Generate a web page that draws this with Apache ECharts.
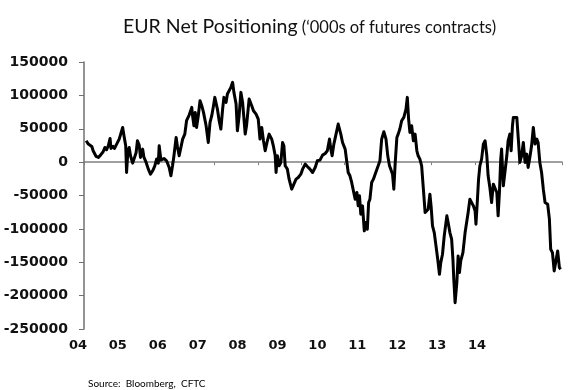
<!DOCTYPE html>
<html>
<head>
<meta charset="utf-8">
<script src="https://cdn.jsdelivr.net/npm/echarts@6/dist/echarts.min.js"></script>
<style>
html,body{margin:0;padding:0;background:#fff;}
#chart{width:575px;height:390px;}
</style>
</head>
<body>
<div id="chart"></div>
<script>
// Decimal-year dates of the weekly readings
var dates = [
2004.05,2004.10,2004.18,2004.21,2004.28,2004.33,2004.38,2004.44,2004.48,2004.52,2004.56,2004.60,2004.62,2004.67,2004.70,2004.74,2004.77,2004.81,2004.84,2004.89,2004.92,2004.96,2004.98,
2005.01,2005.04,2005.07,2005.12,2005.15,2005.20,2005.23,2005.27,2005.30,2005.35,2005.38,2005.43,2005.48,2005.53,2005.58,2005.63,2005.67,2005.71,2005.73,2005.77,2005.84,2005.90,2005.96,
2006.00,2006.04,2006.07,2006.12,2006.15,2006.19,2006.23,2006.27,2006.32,2006.36,2006.42,2006.48,2006.50,2006.53,2006.56,2006.59,2006.63,2006.67,2006.71,2006.75,2006.81,2006.86,2006.90,2006.94,2006.98,
2007.01,2007.07,2007.11,2007.15,2007.19,2007.22,2007.27,2007.30,2007.34,2007.38,2007.42,2007.45,2007.50,2007.53,2007.57,2007.61,2007.65,2007.71,2007.74,2007.80,2007.86,2007.90,2007.96,
2008.01,2008.05,2008.09,2008.13,2008.17,2008.22,2008.26,2008.32,2008.36,2008.40,2008.42,2008.45,2008.49,2008.53,2008.57,2008.60,2008.63,2008.68,2008.72,2008.78,2008.83,2008.88,2008.93,2008.99,
2009.03,2009.09,2009.14,2009.20,2009.26,2009.32,2009.37,2009.43,2009.49,2009.55,2009.60,2009.65,2009.68,2009.71,2009.75,2009.80,2009.85,2009.91,2009.95,
2010.01,2010.05,2010.08,2010.12,2010.16,2010.20,2010.24,2010.28,2010.31,2010.34,2010.37,2010.41,2010.45,2010.49,2010.52,2010.55,2010.58,2010.62,2010.66,2010.70,2010.74,2010.77,2010.81,2010.85,2010.90,2010.95,2010.99,
2011.03,2011.06,2011.10,2011.13,2011.16,2011.20,2011.23,2011.27,2011.31,2011.36,2011.41,2011.44,2011.47,2011.50,2011.54,2011.58,2011.62,2011.66,2011.69,2011.73,2011.77,2011.81,2011.85,2011.89,2011.92,2011.96,2011.99,
2012.02,2012.06,2012.10,2012.14,2012.18,2012.21,2012.25,2012.29,2012.35,2012.38,2012.42,2012.46,2012.49,2012.51,2012.54,2012.58,2012.61,2012.64,2012.67,2012.72,2012.77,2012.81,2012.84,2012.88,2012.92,2012.96,
2013.00,2013.02,2013.05,2013.08,2013.11,2013.15,2013.19,2013.23,2013.27,2013.30,2013.34,2013.38,2013.42,2013.46,2013.50,2013.53,2013.56,2013.59,2013.61,2013.65,2013.69,2013.73,2013.76,2013.80,2013.83,2013.86,2013.88,2013.92,2013.96,
2014.00,2014.03,2014.07,2014.11,2014.15,2014.19,2014.22,2014.26,2014.30,2014.34,2014.38,2014.42,2014.45,2014.49,2014.53,2014.57,2014.61,2014.67,2014.71,2014.74,2014.78,2014.82,2014.86,2014.90,2014.94,2014.97
];
// Net positioning (contracts)
var values = [
32000,27000,23500,17000,8500,7000,10500,15500,22000,18500,24500,35500,20500,23500,20500,25500,23500,34500,37000,52000,39500,24500,-15500,
17000,22000,9500,-1500,-3000,14500,32000,25500,7000,19500,7000,-500,-10500,-18000,-13000,-5500,4500,-1500,24500,3000,5500,2000,-8000,
-20500,-4500,9500,37000,23500,9500,12000,34500,42000,62000,70500,82000,68500,54500,74500,52000,69500,92000,84500,74500,54500,29500,59500,69500,84500,
97000,79500,62000,49500,79500,97000,89500,102000,104500,112000,119500,104500,87000,47000,69500,104500,89500,42000,54500,94500,84500,77000,72000,
64500,34500,52000,32000,17000,32000,42000,34500,23500,9500,-15500,9500,-5500,-500,29500,24500,-5500,-10500,-25500,-40500,-33000,-25500,-23000,-18000,
-10500,-3000,-6500,-10500,-15500,-8000,2000,3000,10500,13000,17000,34500,19500,9500,27000,42000,57000,42000,29500,
19500,-500,-15500,-20500,-30500,-43000,-55500,-45500,-65500,-50500,-78000,-65500,-103000,-90500,-100500,-60500,-55500,-30500,-25500,-18000,-20500,-5500,2000,34500,45500,34500,9500,
-5500,-10500,-18000,-40500,-3000,37000,42000,50000,62000,67000,79500,97000,64500,44500,54500,32000,42000,17000,9500,4500,-5500,-40500,-75500,-78000,-70500,-48000,-68000,
-95500,-105500,-125500,-145500,-168000,-150500,-138000,-110500,-80500,-90500,-105500,-115500,-145500,-175500,-210500,-180500,-140500,-165500,-148000,-135500,-105500,-103000,-75500,-55500,-58000,-65500,
-73000,-93000,-60500,-25500,-5500,4500,27000,32000,9500,-20500,-38000,-60500,-33000,-33000,-45500,-80500,-45500,4500,19500,-35500,-35500,9500,32000,42000,17000,54500,67000,69500,67000,
29500,-500,9500,29500,-500,12000,-8000,7000,24500,52000,27000,34500,29500,-500,-15500,-40500,-60500,-63000,-85500,-130500,-135500,-163000,-148000,-133000,-158000,-160500
];
var yearLabels = ['04','05','06','07','08','09','10','11','12','13','14'];
var yMin = -250000, yMax = 150000, yStep = 50000;
var xMin = 2004, xMax = 2015;

var seriesData = dates.map(function (d, i) { return [d, values[i]]; });

var labelFont = '"DejaVu Sans", Verdana, sans-serif';

var chart = echarts.init(document.getElementById('chart'), null, {renderer: 'canvas'});
chart.setOption({
  animation: false,
  backgroundColor: '#ffffff',
  title: [{
    left: 118, top: 12,
    text: '{a|EUR Net Positioning}{b| (\u2018000s of futures contracts)}',
    textStyle: {
      rich: {
        a: {fontFamily: 'Lato', fontSize: 19.5, color: '#111', fontWeight: 'normal'},
        b: {fontFamily: 'Lato', fontSize: 16.5, color: '#111', fontWeight: 'normal', padding: [2, 0, 0, 0]}
      }
    }
  }, {
    left: 83, top: 374,
    text: 'Source:  Bloomberg,  CFTC',
    textStyle: {fontFamily: 'Lato', fontSize: 10, color: '#000', fontWeight: 'normal'}
  }],
  grid: [
    {left: 84, right: 13, top: 62, bottom: 61, containLabel: false},
    {left: 58, width: 439, top: 62, bottom: 61, containLabel: false}
  ],
  xAxis: [{
    type: 'value', gridIndex: 0, min: xMin, max: xMax, interval: 1,
    axisLine: {show: true, onZero: true, lineStyle: {color: '#808080', width: 1.5}},
    axisTick: {show: true, length: 3, lineStyle: {color: '#808080', width: 1}},
    axisLabel: {show: false},
    splitLine: {show: false}
  }, {
    type: 'category', gridIndex: 1, data: yearLabels, boundaryGap: true,
    axisLine: {show: false}, axisTick: {show: false},
    axisLabel: {show: true, margin: 10, fontFamily: labelFont, fontWeight: 'bold', fontSize: 13, color: '#111'}
  }],
  yAxis: [{
    type: 'value', gridIndex: 0, min: yMin, max: yMax, interval: yStep,
    axisLine: {show: true, lineStyle: {color: '#707070', width: 1.5}},
    axisTick: {show: true, length: 5, lineStyle: {color: '#707070', width: 1}},
    axisLabel: {margin: 16, fontFamily: labelFont, fontWeight: 'bold', fontSize: 14, color: '#111',
      formatter: function (v) { return String(v); }},
    splitLine: {show: false}
  }, {
    type: 'value', gridIndex: 1, min: yMin, max: yMax, show: false
  }],
  series: [{
    type: 'line', xAxisIndex: 0, yAxisIndex: 0,
    data: seriesData, showSymbol: false, symbol: 'none',
    lineStyle: {color: '#000', width: 3, join: 'round'},
    z: 5
  }]
});
</script>
</body>
</html>
